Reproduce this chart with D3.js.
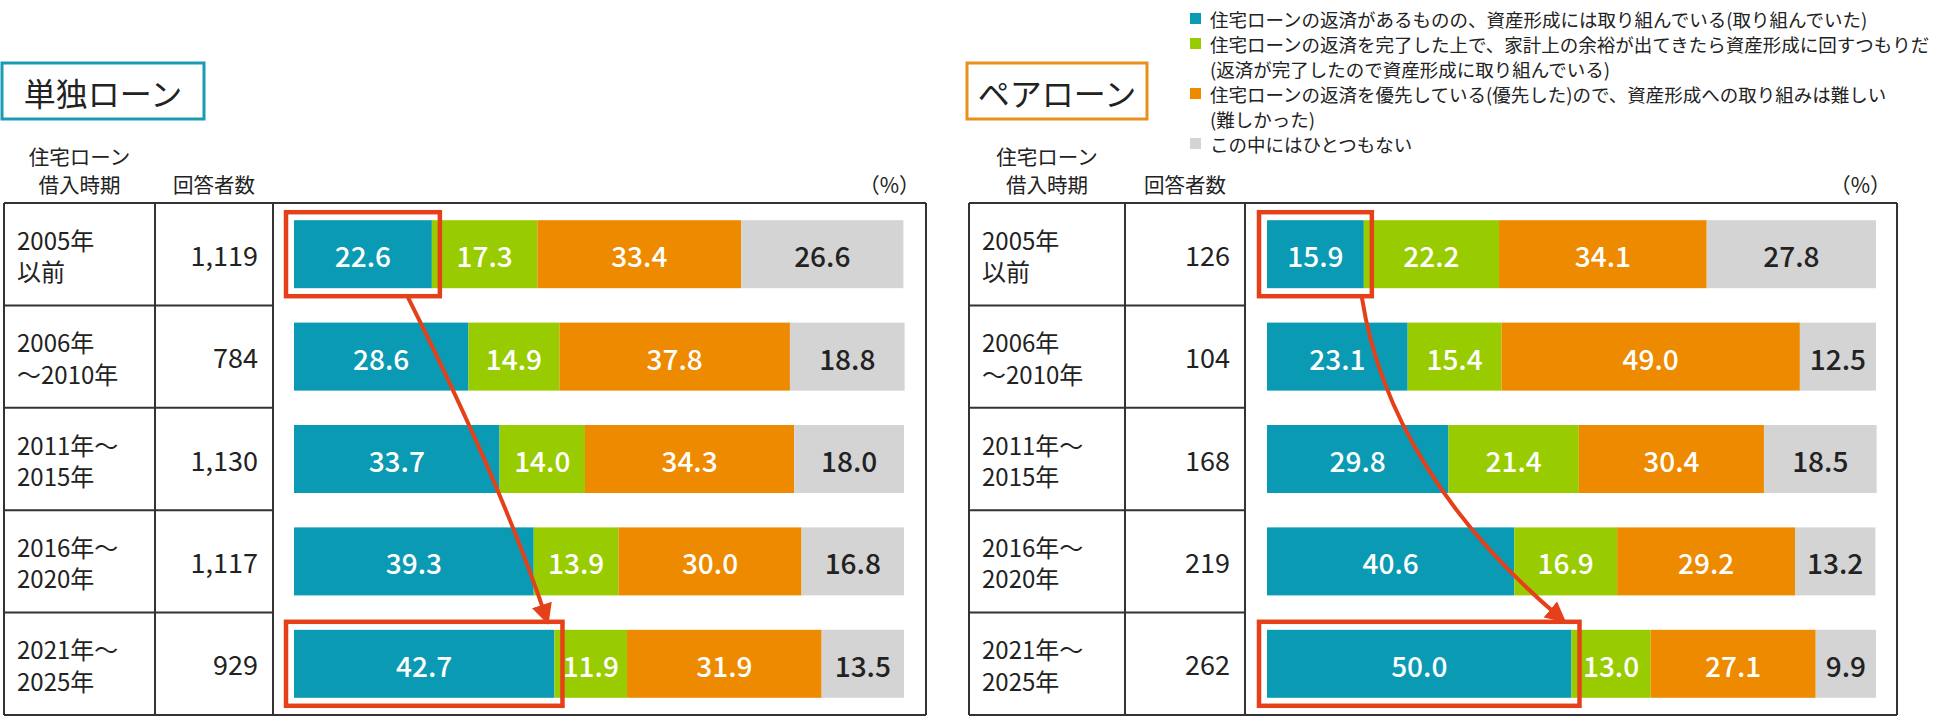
<!DOCTYPE html>
<html><head><meta charset="utf-8">
<script src="https://cdn.jsdelivr.net/npm/d3@7"></script>
<style>
html,body{margin:0;padding:0;background:#fff;}
svg{display:block;font-family:"Noto Sans CJK JP","Noto Sans",sans-serif;}
</style></head>
<body>
<svg id="chart" width="1950" height="718"></svg>
<script>
const periods = [["2005年","以前"],["2006年","～2010年"],["2011年～","2015年"],["2016年～","2020年"],["2021年～","2025年"]];
const seriesNames = [
  ["住宅ローンの返済があるものの、資産形成には取り組んでいる(取り組んでいた)"],
  ["住宅ローンの返済を完了した上で、家計上の余裕が出てきたら資産形成に回すつもりだ","(返済が完了したので資産形成に取り組んでいる)"],
  ["住宅ローンの返済を優先している(優先した)ので、資産形成への取り組みは難しい","(難しかった)"],
  ["この中にはひとつもない"]
];
const colors = ["#0a9ab3","#99cc00","#ee8a00","#d4d4d4"];
const singleCounts = ["1,119","784","1,130","1,117","929"];
const singleValues = [
  [22.6,17.3,33.4,26.6],
  [28.6,14.9,37.8,18.8],
  [33.7,14.0,34.3,18.0],
  [39.3,13.9,30.0,16.8],
  [42.7,11.9,31.9,13.5]
];
const pairCounts = ["126","104","168","219","262"];
const pairValues = [
  [15.9,22.2,34.1,27.8],
  [23.1,15.4,49.0,12.5],
  [29.8,21.4,30.4,18.5],
  [40.6,16.9,29.2,13.2],
  [50.0,13.0,27.1,9.9]
];
const headerPeriod = ["住宅ローン","借入時期"];
const headerCount = "回答者数";
const unitLabel = "（%）";

const svg = d3.select("#chart");
const RED = "#e5401a";
const defs = svg.append("defs");
defs.append("marker").attr("id","ah").attr("viewBox","0 0 10 10").attr("refX",7).attr("refY",5)
  .attr("markerWidth",5.2).attr("markerHeight",5.2).attr("orient","auto-start-reverse")
  .append("path").attr("d","M0,0 L10,5 L0,10 Z").attr("fill",RED);

function multiline(g, x, y, lines, dy, size){
  const t = g.append("text").attr("font-size",size).attr("fill","#222").attr("dominant-baseline","central");
  lines.forEach((s,j)=>t.append("tspan").attr("x",x).attr("y",y+j*dy).text(s));
  return t;
}

function panel(opt){
  const g = svg.append("g");
  const {x0,c1,c2,xr,title,titleColor,counts,values} = opt;
  const top = 203, bottom = 715;
  const y = d3.scaleBand().domain(d3.range(periods.length)).range([top,bottom]).paddingInner(0).paddingOuter(0);
  const x = d3.scaleLinear().domain([0,100]).range([opt.b0,opt.b1]);
  const bh = 68;
  // title box
  g.append("rect").attr("x",x0-2).attr("y",63).attr("width",opt.tw).attr("height",56)
    .attr("fill","#fff").attr("stroke",titleColor).attr("stroke-width",3);
  g.append("text").attr("x",x0-2+opt.tw/2).attr("y",92).attr("text-anchor","middle").attr("dominant-baseline","central")
    .attr("font-size",32).attr("fill","#222").text(title);
  // headers
  multiline(g,(x0+c1)/2,156,headerPeriod,28,20.5).attr("text-anchor","middle");
  g.append("text").attr("x",(c1+c2)/2).attr("y",184).attr("text-anchor","middle").attr("dominant-baseline","central")
    .attr("font-size",20.5).attr("fill","#222").text(headerCount);
  g.append("text").attr("x",xr-6).attr("y",184).attr("text-anchor","end").attr("dominant-baseline","central")
    .attr("font-size",21).attr("fill","#222").text(unitLabel);
  // table lines
  const line=(a,b,c,d)=>g.append("line").attr("x1",a).attr("y1",b).attr("x2",c).attr("y2",d).attr("stroke","#333").attr("stroke-width",2);
  line(x0,top,xr,top); line(x0,bottom,xr,bottom);
  line(x0,top,x0,bottom); line(xr,top,xr,bottom);
  line(c1,top,c1,bottom); line(c2,top,c2,bottom);
  d3.range(1,periods.length).forEach(i=>line(x0,y(i),c2,y(i)));
  // row labels
  periods.forEach((p,i)=>{
    const cy = y(i)+y.bandwidth()/2;
    multiline(g,x0+13,cy-15.5,p,31.5,24);
    g.append("text").attr("x",c2-15).attr("y",cy).attr("text-anchor","end").attr("dominant-baseline","central")
      .attr("font-size",27).attr("fill","#222").text(counts[i]);
  });
  // bars
  values.forEach((row,i)=>{
    const cy = y(i)+y.bandwidth()/2;
    let acc=0;
    row.forEach((v,k)=>{
      const xa=x(acc), xb=x(acc+v);
      g.append("rect").attr("x",xa).attr("y",cy-bh/2).attr("width",xb-xa).attr("height",bh).attr("fill",colors[k]);
      g.append("text").attr("x",(xa+xb)/2).attr("y",cy+1).attr("text-anchor","middle").attr("dominant-baseline","central")
        .attr("font-size",28).attr("font-weight",500).attr("fill",k===3?"#222":"#fff").text(v.toFixed(1));
      acc+=v;
    });
  });
  // highlight boxes
  const first=0,last=periods.length-1, pad=8;
  const boxes=[first,last].map(i=>{
    const cy=y(i)+y.bandwidth()/2;
    const b={x1:x(0)-pad,x2:x(values[i][0])+pad,y1:cy-bh/2-pad,y2:cy+bh/2+pad};
    g.append("rect").attr("x",b.x1).attr("y",b.y1).attr("width",b.x2-b.x1).attr("height",b.y2-b.y1)
      .attr("fill","none").attr("stroke",RED).attr("stroke-width",4.5);
    return b;
  });
  return {g,boxes};
}

const L = panel({x0:4,c1:155,c2:273,xr:926,b0:294,b1:904,tw:202,title:"単独ローン",titleColor:"#1a9bb3",counts:singleCounts,values:singleValues});
const R = panel({x0:969,c1:1125,c2:1245,xr:1897,b0:1267,b1:1876,tw:180,title:"ペアローン",titleColor:"#e8901c",counts:pairCounts,values:pairValues});

// arrows
{
  const [a,b]=L.boxes;
  const s=[a.x2-32,a.y2+1], e=[b.x2-16,b.y1-3];
  L.g.append("path").attr("d",`M${s[0]},${s[1]} Q${s[0]+95},${s[1]+190} ${e[0]},${e[1]}`)
    .attr("fill","none").attr("stroke",RED).attr("stroke-width",4).attr("marker-end","url(#ah)");
}
{
  const [a,b]=R.boxes;
  const s=[a.x2-10,a.y2+1], e=[b.x2-18,b.y1-3];
  R.g.append("path").attr("d",`M${s[0]},${s[1]} C${s[0]+18},${s[1]+115} ${s[0]+85},${s[1]+225} ${e[0]},${e[1]}`)
    .attr("fill","none").attr("stroke",RED).attr("stroke-width",4).attr("marker-end","url(#ah)");
}

// legend
const lg = svg.append("g");
let li=0;
seriesNames.forEach((lines,k)=>{
  lg.append("rect").attr("x",1190).attr("y",19+li*25-6).attr("width",11).attr("height",11).attr("fill",colors[k]);
  multiline(lg,1210,19+li*25,lines,25,18.5);
  li+=lines.length;
});
</script>
</body></html>
